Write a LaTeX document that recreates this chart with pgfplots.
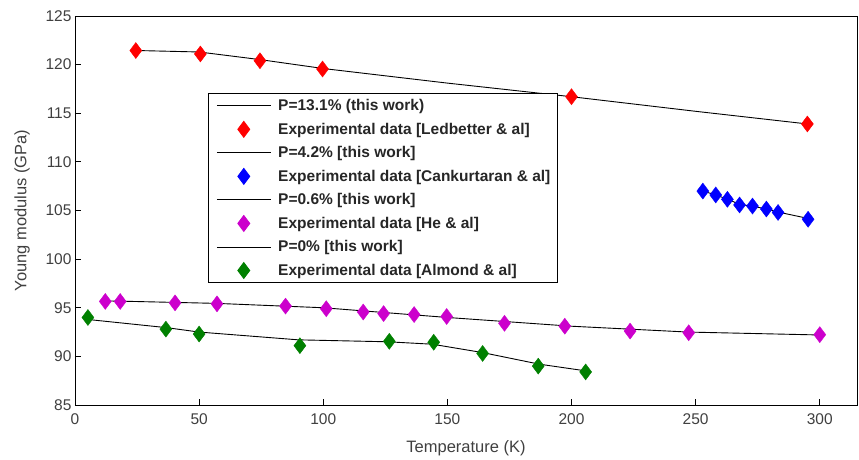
\documentclass[border=0pt]{standalone}
\usepackage{pgfplots}
\pgfplotsset{compat=1.18}
\usepackage{fontspec}
\setmainfont{Liberation Sans}
\definecolor{mgnt}{rgb}{0.8,0,0.8}
\definecolor{dgreen}{rgb}{0,0.5,0}

\pgfplotsset{
  fitline/.style={black, line width=0.9pt, no marks,
    legend image code/.code={\path (-3pt,0pt) (59pt,0pt);
      \draw[##1] (0pt,0pt) -- (54pt,0pt);}},
  expdata/.style={only marks, mark=diamond*, mark size=8pt,
    mark options={draw=#1, fill=#1},
    legend image code/.code={\path (-3pt,0pt) (59pt,0pt);
      \draw[mark repeat=2,mark phase=2,##1]
      plot coordinates {(0pt,0pt) (27pt,0pt) (54pt,0pt)};}},
}

\begin{document}
\begin{tikzpicture}
\begin{axis}[
  name=ax,
  scale only axis,
  width=782pt, height=389pt,
  xmin=0, xmax=315, ymin=85, ymax=125,
  xtick={0,50,...,300}, ytick={85,90,...,125},
  tick pos=left, tick align=inside, major tick length=6pt,
  axis line style={line width=0.8pt},
  tick style={black, line width=0.8pt},
  /pgf/number format/assume math mode=true,
  ticklabel style={font=\fontsize{15.5}{16}\selectfont, text=black!75},
  xticklabel style={yshift=-5pt},
  label style={font=\fontsize{16.5}{18}\selectfont, text=black!75},
  xlabel={Temperature (K)},
  ylabel={Young modulus (GPa)},
  xlabel style={yshift=-9pt},
  ylabel style={yshift=9pt},
  legend cell align=left,
  legend style={at={(rel axis cs:0.170,0.802)}, anchor=north west,
    font=\bfseries\fontsize{15.5}{16}\selectfont, text=black!85,
    draw=black, line width=0.8pt, inner xsep=5pt, inner ysep=4pt,
    row sep=6.8pt},
]

% P = 13.1 % / Ledbetter
\addplot[fitline] coordinates {(25,121.45) (50,121.3) (75,120.5) (100,119.6) (150,118.1) (200,116.7) (250,115.2) (295,113.9)};
\addlegendentry{P=13.1\% (this work)}
\addplot[expdata=red] coordinates {(24.5,121.45) (50.5,121.1) (74.5,120.4) (99.7,119.55) (200,116.7) (295,113.9)};
\addlegendentry{Experimental data [Ledbetter \& al]}

% P = 4.2 % / Cankurtaran
\addplot[fitline] coordinates {(253,107.0) (258,106.6) (263,106.15) (268,105.6) (273,105.45) (278.5,105.15) (283,104.85) (295,104.2)};
\addlegendentry{P=4.2\% [this work]}
\addplot[expdata=blue] coordinates {(252.9,107.0) (258.1,106.6) (262.8,106.15) (267.7,105.57) (272.9,105.46) (278.5,105.15) (283.2,104.8) (295.3,104.1)};
\addlegendentry{Experimental data [Cankurtaran \& al]}

% P = 0.6 % / He
\addplot[fitline] coordinates {(12,95.7) (18,95.68) (57,95.45) (100,95.0) (150,94.0) (175,93.55) (200,93.1) (247,92.5) (300,92.2)};
\addlegendentry{P=0.6\% [this work]}
\addplot[expdata=mgnt] coordinates {(12.2,95.65) (18.2,95.65) (40.3,95.5) (57.2,95.4) (84.8,95.17) (101.2,94.9) (116.1,94.56) (124.3,94.4) (136.6,94.3) (149.7,94.1) (173,93.4) (197.3,93.1) (223.6,92.6) (247.2,92.43) (300,92.23)};
\addlegendentry{Experimental data [He \& al]}

% P = 0 % / Almond
\addplot[fitline] coordinates {(5,93.8) (37,92.95) (50,92.5) (90,91.7) (126,91.5) (144,91.25) (164,90.4) (187,89.2) (206,88.5)};
\addlegendentry{P=0\% [this work]}
\addplot[expdata=dgreen] coordinates {(5.2,94.0) (36.6,92.8) (50,92.3) (90.6,91.1) (126.6,91.55) (144.5,91.45) (164.2,90.3) (186.6,89.0) (205.7,88.4)};
\addlegendentry{Experimental data [Almond \& al]}

\end{axis}
\path (ax.south west) ++(-75pt,-53pt) coordinate (bbA);
\path (ax.north east) ++(2pt,16pt) coordinate (bbB);
\path (bbA) rectangle (bbB);
\end{tikzpicture}
\end{document}
